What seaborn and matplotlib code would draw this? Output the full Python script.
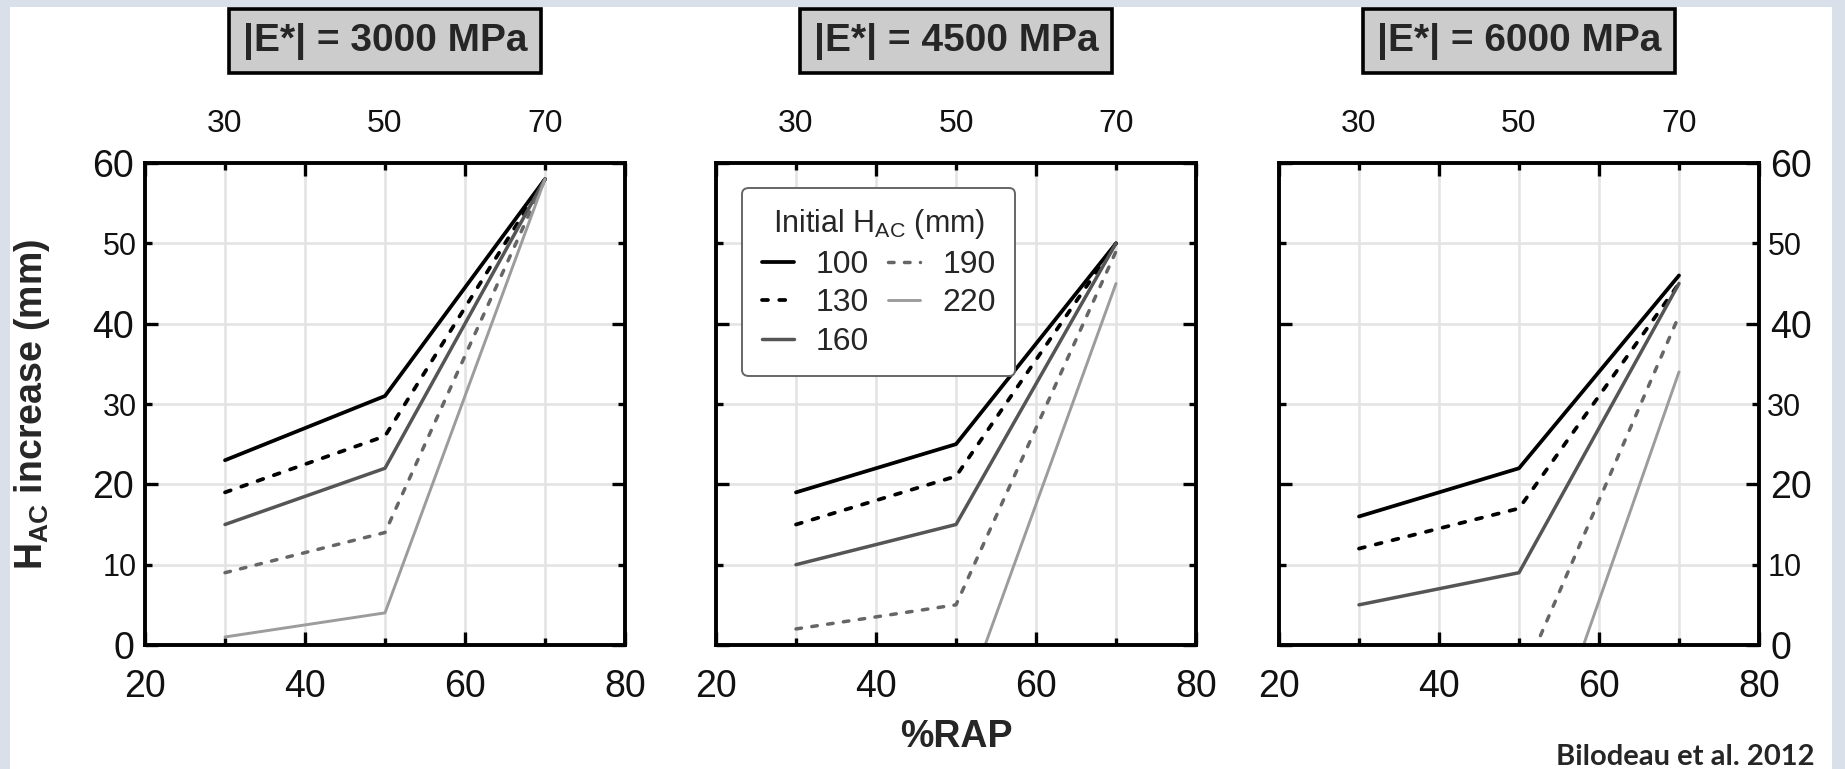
import numpy as np
import pandas as pd
import seaborn as sns
import matplotlib.pyplot as plt
from matplotlib.ticker import FixedLocator, FuncFormatter
from matplotlib.patches import Rectangle

sns.set_theme(style="white")
plt.rcParams['font.family'] = ['Liberation Sans', 'DejaVu Sans']
plt.rcParams['mathtext.fontset'] = 'custom'
plt.rcParams['mathtext.rm'] = 'Liberation Sans'
plt.rcParams['mathtext.it'] = 'Liberation Sans:italic'
plt.rcParams['mathtext.bf'] = 'Liberation Sans:bold'

# %RAP levels on the x axis
rap = [30, 50, 70]
# initial asphalt thickness (mm), one curve each
thickness = ["100", "130", "160", "190", "220"]
# |E*| of each panel (MPa)
moduli = ["3000", "4500", "6000"]

# H_AC increase (mm): one row per thickness, one column per %RAP
inc_3000 = [[23, 31, 58],
            [19, 26, 58],
            [15, 22, 58],
            [9, 14, 58],
            [1, 4, 58]]
inc_4500 = [[19, 25, 50],
            [15, 21, 50],
            [10, 15, 50],
            [2, 5, 49],
            [-20, -10, 45]]
inc_6000 = [[16, 22, 46],
            [12, 17, 45],
            [5, 9, 45],
            [-12, -5, 41],
            [-30, -23, 34]]

rows = []
for mod, table in zip(moduli, [inc_3000, inc_4500, inc_6000]):
    for h, vals in zip(thickness, table):
        for x, v in zip(rap, vals):
            rows.append({"modulus": mod, "rap": x, "thickness": h, "increase": v})
df = pd.DataFrame(rows)

palette = {"100": "#000000", "130": "#000000", "160": "#555555",
           "190": "#666666", "220": "#9c9c9c"}
dashes = {"100": "", "130": (1.6, 3.0), "160": "", "190": (1.6, 3.0), "220": ""}
widths = {"100": 2.7, "130": 2.7, "160": 2.5, "190": 2.5, "220": 2.1}

W, H = 1845, 769
fig = plt.figure(figsize=(W / 100, H / 100), dpi=100)
fig.patch.set_facecolor("#d9e0e9")
fig.patches.append(Rectangle((10 / W, 0), 1822 / W, 1 - 7 / H,
                             transform=fig.transFigure, facecolor="white",
                             edgecolor="none", zorder=-1))

lefts = [145, 716, 1279]
ax_w, ax_top, ax_bot = 480, 163, 645
fmt = FuncFormatter(lambda v, p: f"{v:.0f}")
axes = []
for i, mod in enumerate(moduli):
    ax = fig.add_axes([lefts[i] / W, 1 - ax_bot / H, ax_w / W, (ax_bot - ax_top) / H])
    axes.append(ax)
    sub = df[df["modulus"] == mod]
    sns.lineplot(data=sub, x="rap", y="increase", hue="thickness", style="thickness",
                 size="thickness", palette=palette, dashes=dashes, sizes=widths,
                 hue_order=thickness, style_order=thickness, size_order=thickness,
                 estimator=None, legend=(i == 1), ax=ax)
    for ln in ax.get_lines():
        ln.set_dash_capstyle("round")
    ax.set_xlim(20, 80)
    ax.set_ylim(0, 60)
    ax.set_xlabel("")
    ax.set_ylabel("")

    ax.xaxis.set_major_locator(FixedLocator([20, 40, 60, 80]))
    ax.xaxis.set_minor_locator(FixedLocator([30, 50, 70]))
    ax.yaxis.set_major_locator(FixedLocator([0, 20, 40, 60]))
    ax.yaxis.set_minor_locator(FixedLocator([10, 30, 50]))
    ax.xaxis.set_minor_formatter(fmt)
    ax.yaxis.set_minor_formatter(fmt)

    ax.grid(which="both", color="#e3e3e3", linewidth=1.8)
    ax.set_axisbelow(True)
    for sp in ax.spines.values():
        sp.set_visible(True)
        sp.set_color("black")
        sp.set_linewidth(2.8)

    ax.tick_params(which="both", direction="in", top=True, bottom=True,
                   left=True, right=True, color="black", width=2.4,
                   labelcolor="#111111")
    ax.tick_params(which="major", length=9.5)
    ax.tick_params(which="minor", length=5)
    ax.tick_params(axis="x", which="major", labelbottom=True, labeltop=False,
                   labelsize=27, pad=17)
    ax.tick_params(axis="x", which="minor", labelbottom=False, labeltop=True,
                   labelsize=23, pad=17)
    left_lab = i == 0
    right_lab = i == 2
    ax.tick_params(axis="y", which="major", labelleft=left_lab, labelright=right_lab,
                   labelsize=27, pad=8)
    ax.tick_params(axis="y", which="minor", labelleft=left_lab, labelright=right_lab,
                   labelsize=22, pad=6)

    cx = (lefts[i] + ax_w / 2) / W
    fig.text(cx, 1 - 41 / H, f"|E*| = {mod} MPa", ha="center", va="center",
             fontsize=28, fontweight="bold",
             bbox=dict(boxstyle="square,pad=0.35", facecolor="#cccccc",
                       edgecolor="black", linewidth=2.6))

# legend in the middle panel
ax = axes[1]
handles, labels = ax.get_legend_handles_labels()
ax.get_legend().remove()
leg = ax.legend(handles, labels, title=r"Initial H$_{\rm AC}$ (mm)", ncol=2,
                loc="upper left", bbox_to_anchor=(0.055, 0.948), borderaxespad=0,
                fontsize=23, title_fontsize=22, frameon=True, fancybox=True,
                edgecolor="#666666", framealpha=1, handlelength=1.0,
                handletextpad=0.7, columnspacing=0.6, labelspacing=0.27,
                borderpad=0.6)
leg.get_frame().set_linewidth(1.4)

fig.text(32 / W, 1 - (ax_top + ax_bot) / 2 / H, r"$\mathbf{H_{AC}}$ increase (mm)",
         rotation=90, ha="center", va="center", fontsize=27, fontweight="bold")
fig.text((lefts[1] + ax_w / 2) / W, 1 - 737 / H, "%RAP", ha="center", va="center",
         fontsize=27, fontweight="bold")
fig.text(1815 / W, 1 - 757 / H, "Bilodeau et al. 2012", ha="right", va="center",
         fontsize=21, fontweight="bold",
         family=["Lato", "Open Sans", "Liberation Sans"])

fig.savefig("out.png", dpi=100, facecolor=fig.get_facecolor())
